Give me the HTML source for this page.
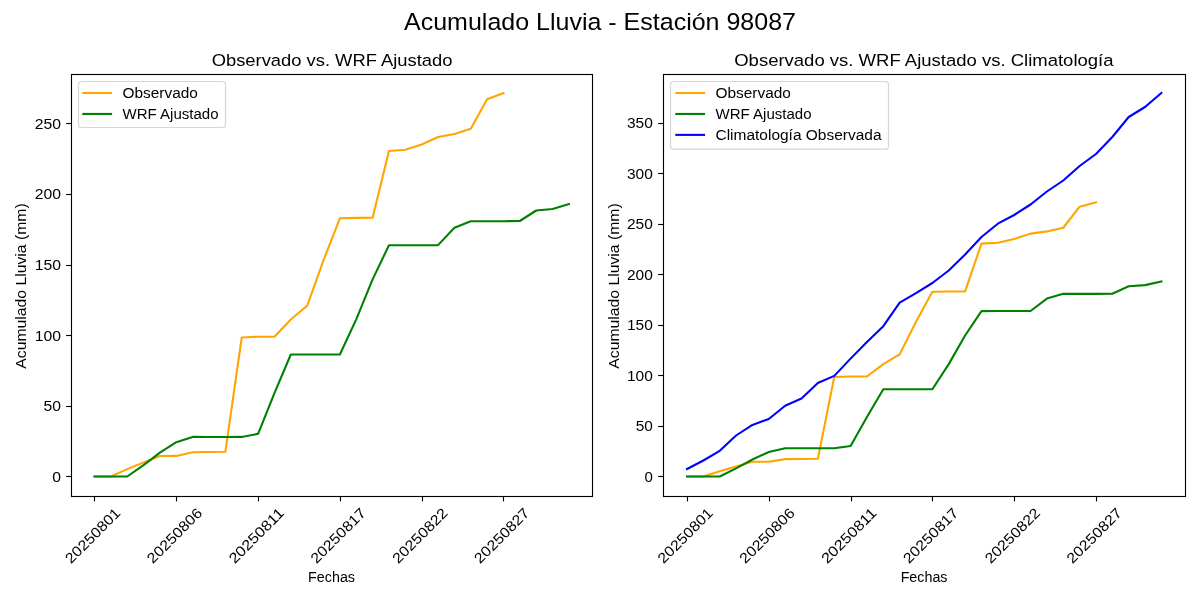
<!DOCTYPE html>
<html lang="es"><head><meta charset="utf-8"><title>Acumulado Lluvia - Estación 98087</title>
<style>html,body{margin:0;padding:0;background:#fff;}svg{display:block;will-change:transform;}text{font-family:"Liberation Sans", sans-serif;fill:#000;}.d{fill:none;stroke-width:2.083;stroke-linejoin:round;stroke-linecap:square;}.sp{fill:none;stroke:#000;stroke-width:1.11;stroke-linecap:square;}.tk{stroke:#000;stroke-width:1.11;}.lg{fill:#fff;fill-opacity:.8;stroke:#ccc;stroke-opacity:.8;stroke-width:1.2;}</style></head><body>
<svg width="1200" height="600" viewBox="0 0 1200 600">
<rect width="1200" height="600" fill="#fff"/>
<text x="600.00" y="29.80" font-size="23.11" text-anchor="middle" textLength="392.00" lengthAdjust="spacingAndGlyphs">Acumulado Lluvia - Estación 98087</text>
<polyline class="d" stroke="#ffa500" points="94.50,476.50 110.86,476.50 127.22,469.10 143.58,462.50 159.94,456.00 176.30,455.90 192.65,452.20 209.01,452.00 225.37,451.80 241.73,337.50 258.09,336.70 274.45,336.70 290.81,319.50 307.17,305.80 323.53,260.20 339.88,218.30 356.24,217.90 372.60,217.80 388.96,151.00 405.32,149.70 421.68,144.50 438.04,137.00 454.40,133.90 470.76,128.80 487.12,99.30 503.48,93.20"/>
<polyline class="d" stroke="#008000" points="94.50,476.50 110.86,476.50 127.22,476.50 143.58,465.10 159.94,452.70 176.30,442.20 192.65,436.90 209.01,437.00 225.37,437.00 241.73,436.90 258.09,433.80 274.45,393.20 290.81,354.50 307.17,354.50 323.53,354.50 339.88,354.50 356.24,319.40 372.60,279.40 388.96,245.30 405.32,245.20 421.68,245.20 438.04,245.10 454.40,227.80 470.76,221.20 487.12,221.20 503.48,221.20 519.83,221.00 536.19,210.50 552.55,209.00 568.91,204.00"/>
<rect class="sp" x="71.5" y="74.5" width="521.0" height="422"/>
<line class="tk" x1="94.5" y1="496.5" x2="94.5" y2="501.4"/>
<text transform="translate(92.70,535.6) rotate(-45)" x="0" y="5.0" font-size="14.45" text-anchor="middle" textLength="71.2" lengthAdjust="spacingAndGlyphs">20250801</text>
<line class="tk" x1="176.5" y1="496.5" x2="176.5" y2="501.4"/>
<text transform="translate(174.50,535.6) rotate(-45)" x="0" y="5.0" font-size="14.45" text-anchor="middle" textLength="71.2" lengthAdjust="spacingAndGlyphs">20250806</text>
<line class="tk" x1="258.5" y1="496.5" x2="258.5" y2="501.4"/>
<text transform="translate(256.29,535.6) rotate(-45)" x="0" y="5.0" font-size="14.45" text-anchor="middle" textLength="71.2" lengthAdjust="spacingAndGlyphs">20250811</text>
<line class="tk" x1="340.5" y1="496.5" x2="340.5" y2="501.4"/>
<text transform="translate(338.08,535.6) rotate(-45)" x="0" y="5.0" font-size="14.45" text-anchor="middle" textLength="71.2" lengthAdjust="spacingAndGlyphs">20250817</text>
<line class="tk" x1="422.5" y1="496.5" x2="422.5" y2="501.4"/>
<text transform="translate(419.88,535.6) rotate(-45)" x="0" y="5.0" font-size="14.45" text-anchor="middle" textLength="71.2" lengthAdjust="spacingAndGlyphs">20250822</text>
<line class="tk" x1="503.5" y1="496.5" x2="503.5" y2="501.4"/>
<text transform="translate(501.68,535.6) rotate(-45)" x="0" y="5.0" font-size="14.45" text-anchor="middle" textLength="71.2" lengthAdjust="spacingAndGlyphs">20250827</text>
<line class="tk" x1="66.10" y1="476.5" x2="71.50" y2="476.5"/>
<text x="61.05" y="482.00" font-size="14.45" text-anchor="end" textLength="8.75" lengthAdjust="spacingAndGlyphs">0</text>
<line class="tk" x1="66.10" y1="406.5" x2="71.50" y2="406.5"/>
<text x="61.05" y="411.00" font-size="14.45" text-anchor="end" textLength="17.50" lengthAdjust="spacingAndGlyphs">50</text>
<line class="tk" x1="66.10" y1="335.5" x2="71.50" y2="335.5"/>
<text x="61.05" y="341.00" font-size="14.45" text-anchor="end" textLength="26.25" lengthAdjust="spacingAndGlyphs">100</text>
<line class="tk" x1="66.10" y1="265.5" x2="71.50" y2="265.5"/>
<text x="61.05" y="270.00" font-size="14.45" text-anchor="end" textLength="26.25" lengthAdjust="spacingAndGlyphs">150</text>
<line class="tk" x1="66.10" y1="194.5" x2="71.50" y2="194.5"/>
<text x="61.05" y="199.00" font-size="14.45" text-anchor="end" textLength="26.25" lengthAdjust="spacingAndGlyphs">200</text>
<line class="tk" x1="66.10" y1="123.5" x2="71.50" y2="123.5"/>
<text x="61.05" y="129.00" font-size="14.45" text-anchor="end" textLength="26.25" lengthAdjust="spacingAndGlyphs">250</text>
<text x="332.07" y="66.10" font-size="17.34" text-anchor="middle" textLength="240.80" lengthAdjust="spacingAndGlyphs">Observado vs. WRF Ajustado</text>
<text x="331.57" y="581.90" font-size="14.45" text-anchor="middle" textLength="46.90" lengthAdjust="spacingAndGlyphs">Fechas</text>
<text transform="translate(26.30,286.0) rotate(-90)" x="0" y="0" font-size="14.45" text-anchor="middle" textLength="165.5" lengthAdjust="spacingAndGlyphs">Acumulado Lluvia (mm)</text>
<rect class="lg" x="78.5" y="81.5" width="147.0" height="46.0" rx="2.8" ry="2.8"/>
<line class="d" stroke="#ffa500" x1="83.30" y1="93.00" x2="111.05" y2="93.00"/>
<text x="122.50" y="97.85" font-size="14.45" text-anchor="start" textLength="75.38" lengthAdjust="spacingAndGlyphs">Observado</text>
<line class="d" stroke="#008000" x1="83.30" y1="113.94" x2="111.05" y2="113.94"/>
<text x="122.50" y="118.79" font-size="14.45" text-anchor="start" textLength="96.00" lengthAdjust="spacingAndGlyphs">WRF Ajustado</text>
<polyline class="d" stroke="#ffa500" points="687.00,476.50 703.36,476.50 719.72,471.21 736.08,466.48 752.44,461.83 768.80,461.76 785.15,459.12 801.51,458.97 817.87,458.83 834.23,377.06 850.59,376.49 866.95,376.49 883.31,364.18 899.67,354.38 916.03,321.76 932.38,291.78 948.74,291.50 965.10,291.43 981.46,243.64 997.82,242.71 1014.18,238.99 1030.54,233.62 1046.90,231.40 1063.26,227.76 1079.62,206.65 1095.97,202.29"/>
<polyline class="d" stroke="#008000" points="687.00,476.50 703.36,476.50 719.72,476.50 736.08,468.34 752.44,459.47 768.80,451.96 785.15,448.17 801.51,448.24 817.87,448.24 834.23,448.17 850.59,445.95 866.95,416.91 883.31,389.22 899.67,389.22 916.03,389.22 932.38,389.22 948.74,364.11 965.10,335.50 981.46,311.10 997.82,311.03 1014.18,311.03 1030.54,310.96 1046.90,298.58 1063.26,293.86 1079.62,293.86 1095.97,293.86 1112.33,293.72 1128.69,286.20 1145.05,285.13 1161.41,281.55"/>
<polyline class="d" stroke="#0000ff" points="687.00,469.00 703.36,460.50 719.72,450.80 736.08,435.50 752.44,424.90 768.80,419.00 785.15,405.80 801.51,398.50 817.87,383.00 834.23,375.90 850.59,358.60 866.95,342.00 883.31,326.20 899.67,302.60 916.03,293.10 932.38,283.00 948.74,270.50 965.10,254.50 981.46,237.00 997.82,223.70 1014.18,215.00 1030.54,204.50 1046.90,191.50 1063.26,180.50 1079.62,166.00 1095.97,154.00 1112.33,137.00 1128.69,117.00 1145.05,107.00 1161.41,93.00"/>
<rect class="sp" x="663.5" y="74.5" width="522.0" height="422"/>
<line class="tk" x1="687.5" y1="496.5" x2="687.5" y2="501.4"/>
<text transform="translate(685.20,535.6) rotate(-45)" x="0" y="5.0" font-size="14.45" text-anchor="middle" textLength="71.2" lengthAdjust="spacingAndGlyphs">20250801</text>
<line class="tk" x1="769.5" y1="496.5" x2="769.5" y2="501.4"/>
<text transform="translate(767.00,535.6) rotate(-45)" x="0" y="5.0" font-size="14.45" text-anchor="middle" textLength="71.2" lengthAdjust="spacingAndGlyphs">20250806</text>
<line class="tk" x1="851.5" y1="496.5" x2="851.5" y2="501.4"/>
<text transform="translate(848.79,535.6) rotate(-45)" x="0" y="5.0" font-size="14.45" text-anchor="middle" textLength="71.2" lengthAdjust="spacingAndGlyphs">20250811</text>
<line class="tk" x1="932.5" y1="496.5" x2="932.5" y2="501.4"/>
<text transform="translate(930.59,535.6) rotate(-45)" x="0" y="5.0" font-size="14.45" text-anchor="middle" textLength="71.2" lengthAdjust="spacingAndGlyphs">20250817</text>
<line class="tk" x1="1014.5" y1="496.5" x2="1014.5" y2="501.4"/>
<text transform="translate(1012.38,535.6) rotate(-45)" x="0" y="5.0" font-size="14.45" text-anchor="middle" textLength="71.2" lengthAdjust="spacingAndGlyphs">20250822</text>
<line class="tk" x1="1096.5" y1="496.5" x2="1096.5" y2="501.4"/>
<text transform="translate(1094.17,535.6) rotate(-45)" x="0" y="5.0" font-size="14.45" text-anchor="middle" textLength="71.2" lengthAdjust="spacingAndGlyphs">20250827</text>
<line class="tk" x1="658.10" y1="476.5" x2="663.50" y2="476.5"/>
<text x="652.85" y="482.00" font-size="14.45" text-anchor="end" textLength="8.35" lengthAdjust="spacingAndGlyphs">0</text>
<line class="tk" x1="658.10" y1="426.5" x2="663.50" y2="426.5"/>
<text x="652.85" y="431.00" font-size="14.45" text-anchor="end" textLength="17.10" lengthAdjust="spacingAndGlyphs">50</text>
<line class="tk" x1="658.10" y1="375.5" x2="663.50" y2="375.5"/>
<text x="652.85" y="381.00" font-size="14.45" text-anchor="end" textLength="25.85" lengthAdjust="spacingAndGlyphs">100</text>
<line class="tk" x1="658.10" y1="325.5" x2="663.50" y2="325.5"/>
<text x="652.85" y="330.00" font-size="14.45" text-anchor="end" textLength="25.85" lengthAdjust="spacingAndGlyphs">150</text>
<line class="tk" x1="658.10" y1="274.5" x2="663.50" y2="274.5"/>
<text x="652.85" y="280.00" font-size="14.45" text-anchor="end" textLength="25.85" lengthAdjust="spacingAndGlyphs">200</text>
<line class="tk" x1="658.10" y1="224.5" x2="663.50" y2="224.5"/>
<text x="652.85" y="229.00" font-size="14.45" text-anchor="end" textLength="25.85" lengthAdjust="spacingAndGlyphs">250</text>
<line class="tk" x1="658.10" y1="173.5" x2="663.50" y2="173.5"/>
<text x="652.85" y="179.00" font-size="14.45" text-anchor="end" textLength="25.85" lengthAdjust="spacingAndGlyphs">300</text>
<line class="tk" x1="658.10" y1="123.5" x2="663.50" y2="123.5"/>
<text x="652.85" y="128.00" font-size="14.45" text-anchor="end" textLength="25.85" lengthAdjust="spacingAndGlyphs">350</text>
<text x="923.88" y="66.10" font-size="17.34" text-anchor="middle" textLength="379.30" lengthAdjust="spacingAndGlyphs">Observado vs. WRF Ajustado vs. Climatología</text>
<text x="924.08" y="581.90" font-size="14.45" text-anchor="middle" textLength="46.90" lengthAdjust="spacingAndGlyphs">Fechas</text>
<text transform="translate(618.80,286.0) rotate(-90)" x="0" y="0" font-size="14.45" text-anchor="middle" textLength="165.5" lengthAdjust="spacingAndGlyphs">Acumulado Lluvia (mm)</text>
<rect class="lg" x="670.5" y="81.5" width="218.0" height="67.7" rx="2.8" ry="2.8"/>
<line class="d" stroke="#ffa500" x1="676.30" y1="93.00" x2="704.05" y2="93.00"/>
<text x="715.50" y="97.85" font-size="14.45" text-anchor="start" textLength="75.38" lengthAdjust="spacingAndGlyphs">Observado</text>
<line class="d" stroke="#008000" x1="676.30" y1="113.94" x2="704.05" y2="113.94"/>
<text x="715.50" y="118.79" font-size="14.45" text-anchor="start" textLength="96.00" lengthAdjust="spacingAndGlyphs">WRF Ajustado</text>
<line class="d" stroke="#0000ff" x1="676.30" y1="134.88" x2="704.05" y2="134.88"/>
<text x="715.50" y="139.73" font-size="14.45" text-anchor="start" textLength="166.00" lengthAdjust="spacingAndGlyphs">Climatología Observada</text>
</svg></body></html>
